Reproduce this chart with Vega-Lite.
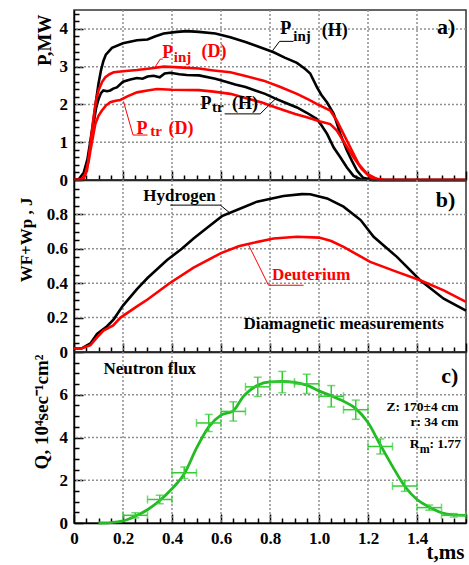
{
"$schema":"https://vega.github.io/schema/vega-lite/v6.json",
"padding":{"left":16,"top":4,"right":3,"bottom":2},
"bounds":"flush",
"spacing":0,
"config":{
 "view":{"stroke":"#333","strokeWidth":1.5},
 "axis":{"labelFont":"Liberation Serif","labelFontWeight":"bold","labelFontSize":17,"labelColor":"#000","titleFont":"Liberation Serif","titleFontWeight":"bold","titleColor":"#000","domainColor":"#000","domainWidth":1.5,"tickColor":"#000","tickWidth":1.5,"labelFlush":false,"grid":false,"labelOverlap":false},
 "text":{"font":"Liberation Serif","fontWeight":"bold"}
},
"datasets":{
 "gridX":[{"t":0.2},{"t":0.4},{"t":0.6},{"t":0.8},{"t":1.0},{"t":1.2},{"t":1.4}],
 "gridYa":[{"v":1},{"v":2},{"v":3},{"v":4}],
 "gridYb":[{"v":0.2},{"v":0.4},{"v":0.6},{"v":0.8}],
 "gridYc":[{"v":2},{"v":4},{"v":6}],
 "power":[
  {"curve":"injH","series":"H","t":0,"v":0},{"curve":"injH","series":"H","t":0.02,"v":0.02},{"curve":"injH","series":"H","t":0.04,"v":0.2},{"curve":"injH","series":"H","t":0.055,"v":0.55},{"curve":"injH","series":"H","t":0.067,"v":1.04},{"curve":"injH","series":"H","t":0.08,"v":1.6},{"curve":"injH","series":"H","t":0.09,"v":2.1},{"curve":"injH","series":"H","t":0.1,"v":2.55},{"curve":"injH","series":"H","t":0.11,"v":2.9},{"curve":"injH","series":"H","t":0.12,"v":3.15},{"curve":"injH","series":"H","t":0.13,"v":3.32},{"curve":"injH","series":"H","t":0.155,"v":3.5},{"curve":"injH","series":"H","t":0.2,"v":3.62},{"curve":"injH","series":"H","t":0.257,"v":3.7},{"curve":"injH","series":"H","t":0.3,"v":3.72},{"curve":"injH","series":"H","t":0.33,"v":3.8},{"curve":"injH","series":"H","t":0.366,"v":3.88},{"curve":"injH","series":"H","t":0.42,"v":3.92},{"curve":"injH","series":"H","t":0.46,"v":3.94},{"curve":"injH","series":"H","t":0.51,"v":3.92},{"curve":"injH","series":"H","t":0.577,"v":3.88},{"curve":"injH","series":"H","t":0.638,"v":3.78},{"curve":"injH","series":"H","t":0.7,"v":3.65},{"curve":"injH","series":"H","t":0.74,"v":3.56},{"curve":"injH","series":"H","t":0.815,"v":3.38},{"curve":"injH","series":"H","t":0.86,"v":3.24},{"curve":"injH","series":"H","t":0.91,"v":3.1},{"curve":"injH","series":"H","t":0.945,"v":2.93},{"curve":"injH","series":"H","t":0.964,"v":2.82},{"curve":"injH","series":"H","t":0.992,"v":2.45},{"curve":"injH","series":"H","t":1.01,"v":2.25},{"curve":"injH","series":"H","t":1.033,"v":2.05},{"curve":"injH","series":"H","t":1.06,"v":1.75},{"curve":"injH","series":"H","t":1.087,"v":1.22},{"curve":"injH","series":"H","t":1.114,"v":0.78},{"curve":"injH","series":"H","t":1.135,"v":0.5},{"curve":"injH","series":"H","t":1.155,"v":0.25},{"curve":"injH","series":"H","t":1.18,"v":0.06},{"curve":"injH","series":"H","t":1.22,"v":0},{"curve":"injH","series":"H","t":1.6,"v":0},
  {"curve":"trH","series":"H","t":0,"v":0},{"curve":"trH","series":"H","t":0.02,"v":0.02},{"curve":"trH","series":"H","t":0.04,"v":0.15},{"curve":"trH","series":"H","t":0.055,"v":0.45},{"curve":"trH","series":"H","t":0.067,"v":0.9},{"curve":"trH","series":"H","t":0.08,"v":1.5},{"curve":"trH","series":"H","t":0.09,"v":1.9},{"curve":"trH","series":"H","t":0.1,"v":2.14},{"curve":"trH","series":"H","t":0.11,"v":2.3},{"curve":"trH","series":"H","t":0.12,"v":2.37},{"curve":"trH","series":"H","t":0.135,"v":2.35},{"curve":"trH","series":"H","t":0.148,"v":2.37},{"curve":"trH","series":"H","t":0.16,"v":2.42},{"curve":"trH","series":"H","t":0.175,"v":2.45},{"curve":"trH","series":"H","t":0.2,"v":2.6},{"curve":"trH","series":"H","t":0.23,"v":2.66},{"curve":"trH","series":"H","t":0.257,"v":2.7},{"curve":"trH","series":"H","t":0.28,"v":2.68},{"curve":"trH","series":"H","t":0.3,"v":2.74},{"curve":"trH","series":"H","t":0.325,"v":2.76},{"curve":"trH","series":"H","t":0.35,"v":2.72},{"curve":"trH","series":"H","t":0.37,"v":2.82},{"curve":"trH","series":"H","t":0.393,"v":2.84},{"curve":"trH","series":"H","t":0.43,"v":2.8},{"curve":"trH","series":"H","t":0.46,"v":2.78},{"curve":"trH","series":"H","t":0.51,"v":2.77},{"curve":"trH","series":"H","t":0.577,"v":2.68},{"curve":"trH","series":"H","t":0.62,"v":2.6},{"curve":"trH","series":"H","t":0.658,"v":2.53},{"curve":"trH","series":"H","t":0.7,"v":2.46},{"curve":"trH","series":"H","t":0.74,"v":2.37},{"curve":"trH","series":"H","t":0.78,"v":2.28},{"curve":"trH","series":"H","t":0.82,"v":2.16},{"curve":"trH","series":"H","t":0.86,"v":2.05},{"curve":"trH","series":"H","t":0.91,"v":1.92},{"curve":"trH","series":"H","t":0.95,"v":1.78},{"curve":"trH","series":"H","t":0.99,"v":1.62},{"curve":"trH","series":"H","t":1.01,"v":1.45},{"curve":"trH","series":"H","t":1.033,"v":1.22},{"curve":"trH","series":"H","t":1.06,"v":0.86},{"curve":"trH","series":"H","t":1.087,"v":0.6},{"curve":"trH","series":"H","t":1.114,"v":0.33},{"curve":"trH","series":"H","t":1.141,"v":0.11},{"curve":"trH","series":"H","t":1.17,"v":0.02},{"curve":"trH","series":"H","t":1.2,"v":0},{"curve":"trH","series":"H","t":1.6,"v":0},
  {"curve":"injD","series":"D","t":0,"v":0},{"curve":"injD","series":"D","t":0.026,"v":0},{"curve":"injD","series":"D","t":0.04,"v":0.05},{"curve":"injD","series":"D","t":0.053,"v":0.25},{"curve":"injD","series":"D","t":0.067,"v":0.95},{"curve":"injD","series":"D","t":0.08,"v":1.66},{"curve":"injD","series":"D","t":0.09,"v":2.1},{"curve":"injD","series":"D","t":0.1,"v":2.37},{"curve":"injD","series":"D","t":0.115,"v":2.6},{"curve":"injD","series":"D","t":0.128,"v":2.72},{"curve":"injD","series":"D","t":0.145,"v":2.8},{"curve":"injD","series":"D","t":0.162,"v":2.85},{"curve":"injD","series":"D","t":0.2,"v":2.88},{"curve":"injD","series":"D","t":0.257,"v":2.91},{"curve":"injD","series":"D","t":0.31,"v":2.95},{"curve":"injD","series":"D","t":0.366,"v":3.0},{"curve":"injD","series":"D","t":0.43,"v":2.98},{"curve":"injD","series":"D","t":0.51,"v":2.95},{"curve":"injD","series":"D","t":0.57,"v":2.9},{"curve":"injD","series":"D","t":0.638,"v":2.85},{"curve":"injD","series":"D","t":0.7,"v":2.75},{"curve":"injD","series":"D","t":0.774,"v":2.63},{"curve":"injD","series":"D","t":0.84,"v":2.47},{"curve":"injD","series":"D","t":0.91,"v":2.28},{"curve":"injD","series":"D","t":0.96,"v":2.12},{"curve":"injD","series":"D","t":0.992,"v":2.01},{"curve":"injD","series":"D","t":1.046,"v":1.84},{"curve":"injD","series":"D","t":1.073,"v":1.57},{"curve":"injD","series":"D","t":1.1,"v":1.22},{"curve":"injD","series":"D","t":1.128,"v":0.86},{"curve":"injD","series":"D","t":1.162,"v":0.42},{"curve":"injD","series":"D","t":1.196,"v":0.16},{"curve":"injD","series":"D","t":1.236,"v":0.03},{"curve":"injD","series":"D","t":1.27,"v":0},{"curve":"injD","series":"D","t":1.6,"v":0},
  {"curve":"trD","series":"D","t":0,"v":0},{"curve":"trD","series":"D","t":0.03,"v":0.02},{"curve":"trD","series":"D","t":0.045,"v":0.15},{"curve":"trD","series":"D","t":0.06,"v":0.5},{"curve":"trD","series":"D","t":0.067,"v":0.78},{"curve":"trD","series":"D","t":0.087,"v":1.48},{"curve":"trD","series":"D","t":0.1,"v":1.7},{"curve":"trD","series":"D","t":0.114,"v":1.84},{"curve":"trD","series":"D","t":0.13,"v":1.97},{"curve":"trD","series":"D","t":0.148,"v":2.06},{"curve":"trD","series":"D","t":0.17,"v":2.1},{"curve":"trD","series":"D","t":0.189,"v":2.12},{"curve":"trD","series":"D","t":0.22,"v":2.22},{"curve":"trD","series":"D","t":0.257,"v":2.32},{"curve":"trD","series":"D","t":0.3,"v":2.37},{"curve":"trD","series":"D","t":0.339,"v":2.41},{"curve":"trD","series":"D","t":0.4,"v":2.39},{"curve":"trD","series":"D","t":0.51,"v":2.38},{"curve":"trD","series":"D","t":0.57,"v":2.34},{"curve":"trD","series":"D","t":0.638,"v":2.28},{"curve":"trD","series":"D","t":0.7,"v":2.17},{"curve":"trD","series":"D","t":0.767,"v":2.05},{"curve":"trD","series":"D","t":0.815,"v":1.94},{"curve":"trD","series":"D","t":0.86,"v":1.84},{"curve":"trD","series":"D","t":0.903,"v":1.75},{"curve":"trD","series":"D","t":0.95,"v":1.66},{"curve":"trD","series":"D","t":1.005,"v":1.55},{"curve":"trD","series":"D","t":1.046,"v":1.48},{"curve":"trD","series":"D","t":1.073,"v":1.31},{"curve":"trD","series":"D","t":1.107,"v":0.95},{"curve":"trD","series":"D","t":1.141,"v":0.6},{"curve":"trD","series":"D","t":1.175,"v":0.29},{"curve":"trD","series":"D","t":1.21,"v":0.07},{"curve":"trD","series":"D","t":1.25,"v":0},{"curve":"trD","series":"D","t":1.6,"v":0}
 ],
 "leadA":[
  {"lid":"injH","series":"H","k":0,"t":0.81,"v":3.42},{"lid":"injH","series":"H","k":1,"t":0.839,"v":3.67},{"lid":"injH","series":"H","k":2,"t":0.896,"v":3.67},
  {"lid":"injD","series":"D","k":0,"t":0.33,"v":2.98},{"lid":"injD","series":"D","k":1,"t":0.352,"v":3.2},{"lid":"injD","series":"D","k":2,"t":0.362,"v":3.2},
  {"lid":"trD","series":"D","k":0,"t":0.202,"v":2.08},{"lid":"trD","series":"D","k":1,"t":0.241,"v":1.19},{"lid":"trD","series":"D","k":2,"t":0.3,"v":1.19},
  {"lid":"trH","series":"H","k":0,"t":0.615,"v":1.75},{"lid":"trH","series":"H","k":1,"t":0.76,"v":1.75},{"lid":"trH","series":"H","k":2,"t":0.829,"v":2.19}
 ],
 "mainA":[
  {"t":0.842,"v":3.875,"txt":"P","series":"H"},{"t":1.011,"v":3.82,"txt":"(H)","series":"H"},
  {"t":0.36,"v":3.24,"txt":"P","series":"D"},{"t":0.52,"v":3.25,"txt":"(D)","series":"D"},
  {"t":0.255,"v":1.22,"txt":"P","series":"D"},{"t":0.386,"v":1.22,"txt":"(D)","series":"D"},
  {"t":0.516,"v":1.88,"txt":"P","series":"H"},{"t":0.645,"v":1.88,"txt":"(H)","series":"H"}
 ],
 "subA":[
  {"t":0.895,"v":3.69,"txt":"inj","series":"H"},{"t":0.407,"v":3.13,"txt":"inj","series":"D"},
  {"t":0.311,"v":1.17,"txt":"tr","series":"D"},{"t":0.563,"v":1.79,"txt":"tr","series":"H"}
 ],
 "tagA":[{"t":1.556,"v":3.87,"txt":"a)"}],
 "energy":[
  {"series":"H","t":0,"v":0.02},{"series":"H","t":0.03,"v":0.02},{"series":"H","t":0.067,"v":0.05},{"series":"H","t":0.094,"v":0.105},{"series":"H","t":0.135,"v":0.15},{"series":"H","t":0.162,"v":0.19},{"series":"H","t":0.2,"v":0.27},{"series":"H","t":0.257,"v":0.365},{"series":"H","t":0.3,"v":0.43},{"series":"H","t":0.38,"v":0.535},{"series":"H","t":0.44,"v":0.6},{"series":"H","t":0.488,"v":0.66},{"series":"H","t":0.55,"v":0.73},{"series":"H","t":0.604,"v":0.79},{"series":"H","t":0.672,"v":0.83},{"series":"H","t":0.747,"v":0.874},{"series":"H","t":0.855,"v":0.907},{"series":"H","t":0.93,"v":0.918},{"series":"H","t":0.964,"v":0.917},{"series":"H","t":1.033,"v":0.893},{"series":"H","t":1.1,"v":0.845},{"series":"H","t":1.17,"v":0.767},{"series":"H","t":1.223,"v":0.67},{"series":"H","t":1.318,"v":0.553},{"series":"H","t":1.413,"v":0.417},{"series":"H","t":1.509,"v":0.31},{"series":"H","t":1.6,"v":0.24},
  {"series":"D","t":0,"v":0.02},{"series":"D","t":0.03,"v":0.02},{"series":"D","t":0.067,"v":0.04},{"series":"D","t":0.094,"v":0.085},{"series":"D","t":0.12,"v":0.125},{"series":"D","t":0.16,"v":0.155},{"series":"D","t":0.19,"v":0.2},{"series":"D","t":0.257,"v":0.265},{"series":"D","t":0.3,"v":0.305},{"series":"D","t":0.39,"v":0.4},{"series":"D","t":0.488,"v":0.49},{"series":"D","t":0.6,"v":0.575},{"series":"D","t":0.672,"v":0.615},{"series":"D","t":0.72,"v":0.631},{"series":"D","t":0.815,"v":0.66},{"series":"D","t":0.91,"v":0.67},{"series":"D","t":1.0,"v":0.665},{"series":"D","t":1.05,"v":0.645},{"series":"D","t":1.1,"v":0.611},{"series":"D","t":1.209,"v":0.524},{"series":"D","t":1.318,"v":0.466},{"series":"D","t":1.413,"v":0.417},{"series":"D","t":1.509,"v":0.358},{"series":"D","t":1.6,"v":0.291}
 ],
 "leadB":[
  {"lid":"hyd","series":"H","k":0,"t":0.393,"v":0.854},{"lid":"hyd","series":"H","k":1,"t":0.597,"v":0.854},{"lid":"hyd","series":"H","k":2,"t":0.635,"v":0.81},
  {"lid":"deu","series":"D","k":0,"t":0.713,"v":0.621},{"lid":"deu","series":"D","k":1,"t":0.794,"v":0.388},{"lid":"deu","series":"D","k":2,"t":0.937,"v":0.388}
 ],
 "labB":[{"t":0.283,"v":0.879,"txt":"Hydrogen","series":"H"},{"t":0.808,"v":0.417,"txt":"Deuterium","series":"D"}],
 "noteB":[{"t":0.692,"v":0.136,"txt":"Diamagnetic measurements"}],
 "tagB":[{"t":1.556,"v":0.845,"txt":"b)"}],
 "flux":[
  {"t":0.1,"q":0},{"t":0.15,"q":0.02},{"t":0.2,"q":0.1},{"t":0.25,"q":0.32},{"t":0.3,"q":0.62},{"t":0.35,"q":1.05},{"t":0.4,"q":1.6},{"t":0.45,"q":2.3},{"t":0.5,"q":3.5},{"t":0.55,"q":4.5},{"t":0.6,"q":5.05},{"t":0.65,"q":5.25},{"t":0.69,"q":5.9},{"t":0.75,"q":6.45},{"t":0.8,"q":6.6},{"t":0.85,"q":6.62},{"t":0.9,"q":6.58},{"t":0.95,"q":6.45},{"t":1.0,"q":6.18},{"t":1.05,"q":5.95},{"t":1.09,"q":5.75},{"t":1.15,"q":5.35},{"t":1.2,"q":4.7},{"t":1.25,"q":3.66},{"t":1.3,"q":2.65},{"t":1.35,"q":1.72},{"t":1.4,"q":1.1},{"t":1.45,"q":0.75},{"t":1.5,"q":0.48},{"t":1.55,"q":0.38},{"t":1.6,"q":0.36}
 ],
 "fluxpts":[
  {"t":0.25,"tlo":0.2,"thi":0.3,"q":0.36,"qlo":0.24,"qhi":0.48},
  {"t":0.35,"tlo":0.3,"thi":0.4,"q":1.1,"qlo":0.9,"qhi":1.3},
  {"t":0.45,"tlo":0.4,"thi":0.5,"q":2.35,"qlo":2.08,"qhi":2.62},
  {"t":0.55,"tlo":0.5,"thi":0.6,"q":4.68,"qlo":4.28,"qhi":5.08},
  {"t":0.65,"tlo":0.6,"thi":0.7,"q":5.22,"qlo":4.77,"qhi":5.67},
  {"t":0.75,"tlo":0.7,"thi":0.8,"q":6.37,"qlo":5.92,"qhi":6.82},
  {"t":0.85,"tlo":0.8,"thi":0.9,"q":6.59,"qlo":6.09,"qhi":7.09},
  {"t":0.95,"tlo":0.9,"thi":1.0,"q":6.51,"qlo":6.06,"qhi":6.96},
  {"t":1.05,"tlo":1.0,"thi":1.1,"q":5.93,"qlo":5.43,"qhi":6.43},
  {"t":1.15,"tlo":1.1,"thi":1.2,"q":5.3,"qlo":4.85,"qhi":5.75},
  {"t":1.25,"tlo":1.2,"thi":1.3,"q":3.58,"qlo":3.23,"qhi":3.93},
  {"t":1.35,"tlo":1.3,"thi":1.4,"q":1.73,"qlo":1.48,"qhi":1.98},
  {"t":1.45,"tlo":1.4,"thi":1.5,"q":0.72,"qlo":0.6,"qhi":0.84},
  {"t":1.55,"tlo":1.5,"thi":1.6,"q":0.36,"qlo":0.28,"qhi":0.44}
 ],
 "noteC":[{"t":0.12,"v":6.95,"txt":"Neutron flux"}],
 "tagC":[{"t":1.569,"v":6.56,"txt":"c)"}],
 "infoC":[{"t":1.569,"v":5.26,"txt":"Z: 170±4 cm"},{"t":1.569,"v":4.55,"txt":"r: 34 cm"}],
 "rmC":[{"t":1.37,"v":3.5,"txt":"R"},{"t":1.451,"v":3.5,"txt":": 1.77"}],
 "rmSub":[{"t":1.411,"v":3.27,"txt":"m"}]
},
"vconcat":[
 {
  "width":392,"height":170,
  "resolve":{"axis":{"x":"independent","y":"independent"}},
  "layer":[
   {"data":{"name":"gridX"},"mark":{"type":"rule","color":"#909090","strokeDash":[2,2],"strokeWidth":1.5},
    "encoding":{"x":{"field":"t","type":"quantitative","scale":{"domain":[0,1.6],"nice":false,"zero":false},
      "axis":{"title":null,"labels":false,"values":[0,0.05,0.1,0.15,0.2,0.25,0.3,0.35,0.4,0.45,0.5,0.55,0.6,0.65,0.7,0.75,0.8,0.85,0.9,0.95,1,1.05,1.1,1.15,1.2,1.25,1.3,1.35,1.4,1.45,1.5,1.55,1.6],
       "tickSize":{"condition":{"test":"abs(datum.value*5-round(datum.value*5))<0.001","value":-9},"value":-5}}}}},
   {"data":{"name":"gridYa"},"mark":{"type":"rule","color":"#909090","strokeDash":[2,2],"strokeWidth":1.5},
    "encoding":{"y":{"field":"v","type":"quantitative","scale":{"domain":[0,4.5],"nice":false},
      "axis":{"title":"P,MW","titleFontSize":19,"titleAngle":-90,"titleX":-24,"titleY":4,"titleAlign":"right","titleBaseline":"alphabetic","labelPadding":15.5,"labelOverlap":false,
       "values":[0,0.2,0.4,0.6,0.8,1,1.2,1.4,1.6,1.8,2,2.2,2.4,2.6,2.8,3,3.2,3.4,3.6,3.8,4,4.2,4.4],
       "labelExpr":"round(datum.value)==datum.value ? format(datum.value,'d') : ''",
       "tickSize":{"condition":{"test":"round(datum.value)==datum.value","value":-9},"value":-5}}}}},
   {"data":{"name":"power"},"mark":{"type":"line","strokeWidth":2.6},
    "encoding":{
     "x":{"field":"t","type":"quantitative","axis":null},
     "y":{"field":"v","type":"quantitative","axis":null},
     "color":{"field":"series","type":"nominal","scale":{"domain":["H","D"],"range":["#000000","#ff0000"]},"legend":null},
     "detail":{"field":"curve"}}},
   {"data":{"name":"leadA"},"mark":{"type":"line","strokeWidth":1},
    "encoding":{"x":{"field":"t","type":"quantitative","axis":null},"y":{"field":"v","type":"quantitative","axis":null},
     "color":{"field":"series","type":"nominal","scale":{"domain":["H","D"],"range":["#000000","#ff0000"]},"legend":null},
     "detail":{"field":"lid"},"order":{"field":"k"}}},
   {"data":{"name":"mainA"},"mark":{"type":"text","align":"left","baseline":"alphabetic","fontSize":18},
    "encoding":{"x":{"field":"t","type":"quantitative","axis":null},"y":{"field":"v","type":"quantitative","axis":null},"text":{"field":"txt"},
     "color":{"field":"series","type":"nominal","scale":{"domain":["H","D"],"range":["#000000","#ff0000"]},"legend":null}}},
   {"data":{"name":"subA"},"mark":{"type":"text","align":"left","baseline":"alphabetic","fontSize":15},
    "encoding":{"x":{"field":"t","type":"quantitative","axis":null},"y":{"field":"v","type":"quantitative","axis":null},"text":{"field":"txt"},
     "color":{"field":"series","type":"nominal","scale":{"domain":["H","D"],"range":["#000000","#ff0000"]},"legend":null}}},
   {"data":{"name":"tagA"},"mark":{"type":"text","align":"right","baseline":"alphabetic","fontSize":22,"color":"#000"},
    "encoding":{"x":{"field":"t","type":"quantitative","axis":null},"y":{"field":"v","type":"quantitative","axis":null},"text":{"field":"txt"}}}
  ]
 },
 {
  "width":392,"height":172,
  "resolve":{"axis":{"x":"independent","y":"independent"}},
  "layer":[
   {"data":{"name":"gridX"},"mark":{"type":"rule","color":"#909090","strokeDash":[2,2],"strokeWidth":1.5},
    "encoding":{"x":{"field":"t","type":"quantitative","scale":{"domain":[0,1.6],"nice":false,"zero":false},
      "axis":{"title":null,"labels":false,"values":[0,0.05,0.1,0.15,0.2,0.25,0.3,0.35,0.4,0.45,0.5,0.55,0.6,0.65,0.7,0.75,0.8,0.85,0.9,0.95,1,1.05,1.1,1.15,1.2,1.25,1.3,1.35,1.4,1.45,1.5,1.55,1.6],
       "tickSize":{"condition":{"test":"abs(datum.value*5-round(datum.value*5))<0.001","value":-9},"value":-5}}}}},
   {"data":{"name":"gridYb"},"mark":{"type":"rule","color":"#909090","strokeDash":[2,2],"strokeWidth":1.5},
    "encoding":{"y":{"field":"v","type":"quantitative","scale":{"domain":[0,1],"nice":false},
      "axis":{"title":"WF+Wp , J","titleFontSize":17,"titleAngle":-90,"titleX":-43,"titleY":17,"titleAlign":"right","titleBaseline":"alphabetic","labelPadding":15.5,"labelOverlap":false,
       "values":[0,0.05,0.1,0.15,0.2,0.25,0.3,0.35,0.4,0.45,0.5,0.55,0.6,0.65,0.7,0.75,0.8,0.85,0.9,0.95],
       "labelExpr":"abs(datum.value*5-round(datum.value*5))<0.001 ? (datum.value==0 ? '0' : format(datum.value,'.1f')) : ''",
       "tickSize":{"condition":{"test":"abs(datum.value*5-round(datum.value*5))<0.001","value":-9},"value":-5}}}}},
   {"data":{"name":"energy"},"mark":{"type":"line","strokeWidth":2.6},
    "encoding":{
     "x":{"field":"t","type":"quantitative","axis":null},
     "y":{"field":"v","type":"quantitative","axis":null},
     "color":{"field":"series","type":"nominal","scale":{"domain":["H","D"],"range":["#000000","#ff0000"]},"legend":null}}},
   {"data":{"name":"leadB"},"mark":{"type":"line","strokeWidth":1},
    "encoding":{"x":{"field":"t","type":"quantitative","axis":null},"y":{"field":"v","type":"quantitative","axis":null},
     "color":{"field":"series","type":"nominal","scale":{"domain":["H","D"],"range":["#000000","#ff0000"]},"legend":null},
     "detail":{"field":"lid"},"order":{"field":"k"}}},
   {"data":{"name":"labB"},"mark":{"type":"text","align":"left","baseline":"alphabetic","fontSize":17},
    "encoding":{"x":{"field":"t","type":"quantitative","axis":null},"y":{"field":"v","type":"quantitative","axis":null},"text":{"field":"txt"},
     "color":{"field":"series","type":"nominal","scale":{"domain":["H","D"],"range":["#000000","#ff0000"]},"legend":null}}},
   {"data":{"name":"noteB"},"mark":{"type":"text","align":"left","baseline":"alphabetic","fontSize":17,"color":"#000"},
    "encoding":{"x":{"field":"t","type":"quantitative","axis":null},"y":{"field":"v","type":"quantitative","axis":null},"text":{"field":"txt"}}},
   {"data":{"name":"tagB"},"mark":{"type":"text","align":"right","baseline":"alphabetic","fontSize":22,"color":"#000"},
    "encoding":{"x":{"field":"t","type":"quantitative","axis":null},"y":{"field":"v","type":"quantitative","axis":null},"text":{"field":"txt"}}}
  ]
 },
 {
  "width":392,"height":171,
  "resolve":{"axis":{"x":"independent","y":"independent"}},
  "layer":[
   {"data":{"name":"gridX"},"mark":{"type":"rule","color":"#909090","strokeDash":[2,2],"strokeWidth":1.5},
    "encoding":{"x":{"field":"t","type":"quantitative","scale":{"domain":[0,1.6],"nice":false,"zero":false},
      "axis":{"title":"t,ms","titleFontSize":21,"titleAnchor":"end","titleAlign":"right","titleX":390,"titleY":35,"titleBaseline":"alphabetic","labelPadding":16,"labelOverlap":false,
       "values":[0,0.05,0.1,0.15,0.2,0.25,0.3,0.35,0.4,0.45,0.5,0.55,0.6,0.65,0.7,0.75,0.8,0.85,0.9,0.95,1,1.05,1.1,1.15,1.2,1.25,1.3,1.35,1.4,1.45,1.5,1.55,1.6],
       "labelExpr":"abs(datum.value*5-round(datum.value*5))<0.001 && datum.value<1.5 ? (datum.value==0 ? '0' : format(datum.value,'.1f')) : ''",
       "tickSize":{"condition":{"test":"abs(datum.value*5-round(datum.value*5))<0.001","value":-9},"value":-5}}}}},
   {"data":{"name":"gridYc"},"mark":{"type":"rule","color":"#909090","strokeDash":[2,2],"strokeWidth":1.5},
    "encoding":{"y":{"field":"v","type":"quantitative","scale":{"domain":[0,8],"nice":false},
      "axis":{"title":"Q, 10⁴sec⁻¹cm²","titleFontSize":19,"titleAngle":-90,"titleX":-27,"titleY":2,"titleAlign":"right","titleBaseline":"alphabetic","labelPadding":15.5,"labelOverlap":false,
       "values":[0,0.5,1,1.5,2,2.5,3,3.5,4,4.5,5,5.5,6,6.5,7,7.5],
       "labelExpr":"abs(datum.value/2-round(datum.value/2))<0.001 ? format(datum.value,'d') : ''",
       "tickSize":{"condition":{"test":"abs(datum.value/2-round(datum.value/2))<0.001","value":-9},"value":-5}}}}},
   {"data":{"name":"flux"},"mark":{"type":"line","strokeWidth":2.8,"color":"#22bb22","interpolate":"monotone"},
    "encoding":{"x":{"field":"t","type":"quantitative","axis":null},"y":{"field":"q","type":"quantitative","axis":null}}},
   {"data":{"name":"fluxpts"},"mark":{"type":"rule","color":"#33cc33","strokeWidth":1.5},
    "encoding":{"x":{"field":"tlo","type":"quantitative","axis":null},"x2":{"field":"thi"},"y":{"field":"q","type":"quantitative","axis":null}}},
   {"data":{"name":"fluxpts"},"mark":{"type":"rule","color":"#33cc33","strokeWidth":1.5},
    "encoding":{"x":{"field":"t","type":"quantitative","axis":null},"y":{"field":"qlo","type":"quantitative","axis":null},"y2":{"field":"qhi"}}},
   {"data":{"name":"fluxpts"},"mark":{"type":"tick","orient":"horizontal","color":"#33cc33","size":8,"thickness":1.5},
    "encoding":{"x":{"field":"t","type":"quantitative","axis":null},"y":{"field":"qlo","type":"quantitative","axis":null}}},
   {"data":{"name":"fluxpts"},"mark":{"type":"tick","orient":"horizontal","color":"#33cc33","size":8,"thickness":1.5},
    "encoding":{"x":{"field":"t","type":"quantitative","axis":null},"y":{"field":"qhi","type":"quantitative","axis":null}}},
   {"data":{"name":"fluxpts"},"mark":{"type":"tick","orient":"vertical","color":"#33cc33","size":8,"thickness":1.5},
    "encoding":{"x":{"field":"tlo","type":"quantitative","axis":null},"y":{"field":"q","type":"quantitative","axis":null}}},
   {"data":{"name":"fluxpts"},"mark":{"type":"tick","orient":"vertical","color":"#33cc33","size":8,"thickness":1.5},
    "encoding":{"x":{"field":"thi","type":"quantitative","axis":null},"y":{"field":"q","type":"quantitative","axis":null}}},
   {"data":{"name":"noteC"},"mark":{"type":"text","align":"left","baseline":"alphabetic","fontSize":17,"color":"#000"},
    "encoding":{"x":{"field":"t","type":"quantitative","axis":null},"y":{"field":"v","type":"quantitative","axis":null},"text":{"field":"txt"}}},
   {"data":{"name":"tagC"},"mark":{"type":"text","align":"right","baseline":"alphabetic","fontSize":22,"color":"#000"},
    "encoding":{"x":{"field":"t","type":"quantitative","axis":null},"y":{"field":"v","type":"quantitative","axis":null},"text":{"field":"txt"}}},
   {"data":{"name":"infoC"},"mark":{"type":"text","align":"right","baseline":"alphabetic","fontSize":13.5,"color":"#000"},
    "encoding":{"x":{"field":"t","type":"quantitative","axis":null},"y":{"field":"v","type":"quantitative","axis":null},"text":{"field":"txt"}}},
   {"data":{"name":"rmC"},"mark":{"type":"text","align":"left","baseline":"alphabetic","fontSize":13.5,"color":"#000"},
    "encoding":{"x":{"field":"t","type":"quantitative","axis":null},"y":{"field":"v","type":"quantitative","axis":null},"text":{"field":"txt"}}},
   {"data":{"name":"rmSub"},"mark":{"type":"text","align":"left","baseline":"alphabetic","fontSize":12,"color":"#000"},
    "encoding":{"x":{"field":"t","type":"quantitative","axis":null},"y":{"field":"v","type":"quantitative","axis":null},"text":{"field":"txt"}}}
  ]
 }
]
}
